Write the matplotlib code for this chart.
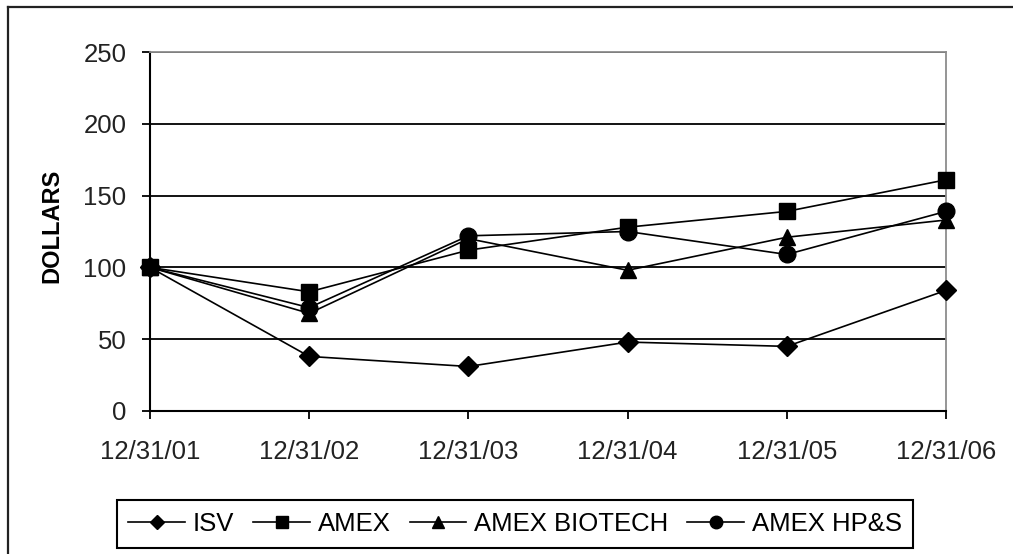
import matplotlib
matplotlib.use("Agg")
import matplotlib.pyplot as plt
from matplotlib.lines import Line2D

plt.rcParams['font.family'] = ['Liberation Sans', 'DejaVu Sans']

dates = ["12/31/01", "12/31/02", "12/31/03", "12/31/04", "12/31/05", "12/31/06"]
isv = [100, 38, 31, 48, 45, 84]
amex = [100, 83, 112, 128, 139, 161]
amex_biotech = [100, 68, 120, 98, 121, 133]
amex_hps = [100, 72, 122, 125, 109, 139]

series = [
    ("ISV", isv, "D", 10),
    ("AMEX", amex, "s", 12),
    ("AMEX BIOTECH", amex_biotech, "^", 12),
    ("AMEX HP&S", amex_hps, "o", 12),
]

fig = plt.figure(figsize=(10.13, 5.54), dpi=100)
W, H = 1013, 554
ax = fig.add_axes([150 / W, 1 - 411 / H, 796 / W, 359 / H])

x = list(range(len(dates)))
for name, vals, mk, ms in series:
    ax.plot(x, vals, color="black", lw=1.2, marker=mk, markersize=ms,
            markerfacecolor="black", markeredgecolor="black", label=name,
            clip_on=False, zorder=3)

ax.set_xlim(0, len(dates) - 1)
ax.set_ylim(0, 250)
ax.set_yticks([0, 50, 100, 150, 200, 250])
ax.set_xticks(x)
ax.set_xticklabels(dates)
ax.yaxis.grid(True, color="black", lw=1.3)
ax.set_axisbelow(True)

for side in ["top", "right"]:
    ax.spines[side].set_color("#8c8c8c")
    ax.spines[side].set_linewidth(1.3)
for side in ["left", "bottom"]:
    ax.spines[side].set_color("black")
    ax.spines[side].set_linewidth(1.5)

ax.tick_params(axis="y", direction="out", length=6, width=1.3, pad=11,
               labelsize=18.5, colors="black")
ax.tick_params(axis="x", direction="out", length=6, width=1.3, pad=15,
               labelsize=18.5, colors="black")
for lbl in ax.get_xticklabels() + ax.get_yticklabels():
    lbl.set_color("#222222")

fig.text(52 / W, 1 - 226 / H, "DOLLARS", rotation=90, fontsize=17,
         fontweight="bold", ha="center", va="center")

leg = fig.legend(loc="center", bbox_to_anchor=(515 / W, 1 - 524 / H), ncol=4,
                 fontsize=18.5, frameon=True, fancybox=False, framealpha=1,
                 edgecolor="black", handlelength=2.2, handletextpad=0.3,
                 columnspacing=0.75, borderpad=0.45, borderaxespad=0,
                 markerscale=0.75)
leg.get_frame().set_linewidth(1.5)

# outer border
fig.add_artist(Line2D([8 / W, 8 / W], [0, 1 - 7 / H], transform=fig.transFigure,
                      color="#222222", lw=1.6))
fig.add_artist(Line2D([8 / W, 1], [1 - 7 / H, 1 - 7 / H], transform=fig.transFigure,
                      color="#222222", lw=1.6))

fig.savefig("out.png", dpi=100)
